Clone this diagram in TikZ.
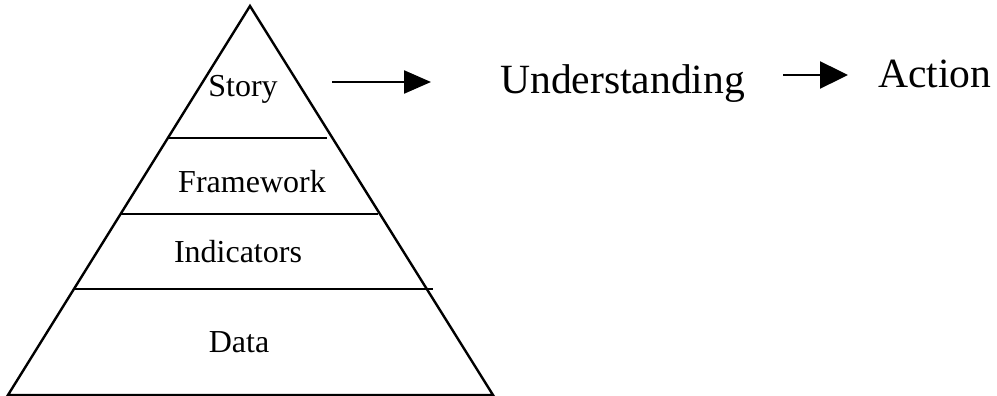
\documentclass[tikz,border=0pt]{standalone}
\usepackage{fontspec}
\setmainfont{Liberation Serif}
\usetikzlibrary{arrows.meta}
\begin{document}
\begin{tikzpicture}[x=1pt,y=-1pt,
  edge/.style={line width=2.4pt},
  small/.style={font=\fontsize{32}{38}\selectfont,inner sep=0pt,anchor=base},
  big/.style={font=\fontsize{41.6}{48}\selectfont,inner sep=0pt,anchor=base west},
  arr/.style={line width=2.4pt,-{Triangle[length=27pt,width=23pt]}}]
\useasboundingbox (0,0) rectangle (997,396);
\fill[white] (0,0) rectangle (997,396);
% pyramid
\coordinate (apex) at (250,6);
\coordinate (bl) at (8,395);
\coordinate (br) at (493,395);
\draw[edge,line join=miter] (bl) -- (apex) -- (br) -- cycle;
\coordinate (l1a) at (168,138); \coordinate (l1b) at (327,138);
\coordinate (l2a) at (121,214); \coordinate (l2b) at (378,214);
\coordinate (l3a) at (75,289);  \coordinate (l3b) at (433,289);
\draw[edge] (l1a) -- (l1b);
\draw[edge] (l2a) -- (l2b);
\draw[edge] (l3a) -- (l3b);
% labels
\node[small] (story) at (243,96) {Story};
\node[small] (framework) at (252,192) {Framework};
\node[small] (indicators) at (238,262) {Indicators};
\node[small] (data) at (239,352) {Data};
\node[big] (underst) at (500,93) {Understanding};
\node[big] (action) at (878,88) {Action};
% arrows
\coordinate (a1s) at (332,82); \coordinate (a1e) at (431,82);
\coordinate (a2s) at (783,75); \coordinate (a2e) at (848,75);
\draw[arr] (a1s) -- (a1e);
\draw[arr,-{Triangle[length=28pt,width=27pt]}] (a2s) -- (a2e);
\end{tikzpicture}
\end{document}
